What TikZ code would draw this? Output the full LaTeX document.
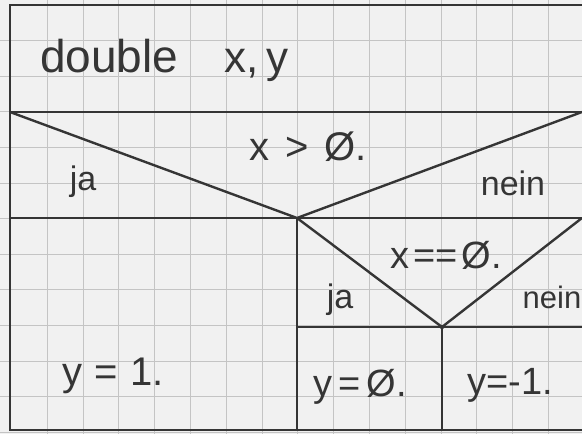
\documentclass[tikz,border=0pt]{standalone}
\usepackage{fontspec}
\setmainfont{Liberation Sans}
\begin{document}
\begin{tikzpicture}[x=1pt,y=-1pt,
  frame/.style={draw=ink,line width=2.8pt},
  struct/.style={draw=ink,line width=2.4pt},
  grid line/.style={draw=gridc,line width=0.9pt},
  hand/.style={text=ink,inner sep=0pt,font=\fontsize{#1}{#1}\selectfont},
  hand/.default=34]
\definecolor{ink}{HTML}{353535}
\definecolor{gridc}{HTML}{C4C4C4}
\definecolor{paper}{HTML}{F1F1F1}
\useasboundingbox (0,0) rectangle (582,434);
\clip (0,0) rectangle (582,434);
\fill[paper] (0,0) rectangle (582,434);
% graph paper
\foreach \k in {1,...,16} {\draw[grid line] (11.5+35.8*\k,0) -- (11.5+35.8*\k,434);}
\foreach \k in {1,...,12} {\draw[grid line] (0,5+35.6*\k) -- (582,5+35.6*\k);}
% structure points
\coordinate (TL) at (10,5);
\coordinate (TR) at (590,5);
\coordinate (BL) at (10,430);
\coordinate (BR) at (590,430);
\coordinate (A1) at (10,112);
\coordinate (A2) at (590,112);
\coordinate (V1) at (297,218);
\coordinate (B1) at (10,218);
\coordinate (B2) at (590,218);
\coordinate (V2) at (442,327);
\coordinate (C1) at (297,327);
\coordinate (C2) at (590,327);
\coordinate (D1) at (297,430);
\coordinate (D2) at (442,430);
\coordinate (R1) at (582,112);
\coordinate (R2) at (582,218);
% frame
\draw[frame] (BR) -- (BL) -- (TL) -- (TR);
\draw[frame] (A1) -- (A2);
\draw[struct] (A1) -- (V1) -- (R1);
\draw[struct] (B1) -- (B2);
\draw[struct] (V1) -- (D1);
\draw[struct] (V1) -- (V2) -- (R2);
\draw[struct] (C1) -- (C2);
\draw[struct] (V2) -- (D2);
\fill[ink] (V2) circle (2.2pt);
% texts
\node[hand=46,anchor=base west] (decl) at (40,72) {double};
\node[hand=44,anchor=base west] (vars) at (224,72) {x,\hspace{8pt}y};
\node[hand=40,anchor=base] (cond1) at (308,160) {x\hspace{16pt}>\hspace{16pt}Ø.};
\node[hand=34,anchor=base] (ja1) at (83,190) {ja};
\node[hand=34,anchor=base] (nein1) at (513,195) {nein};
\node[hand=38,anchor=base] (cond2) at (446,268) {x\hspace{4pt}==\hspace{4pt}Ø.};
\node[hand=34,anchor=base] (ja2) at (340,308) {ja};
\node[hand=31,anchor=base] (nein2) at (552,308) {nein};
\node[hand=40,anchor=base] (s1) at (113,385) {y\hspace{12pt}=\hspace{12pt}1.};
\node[hand=38,anchor=base] (s2) at (360,396) {y\,=\,Ø.};
\node[hand=38,anchor=base] (s3) at (510,394) {y=-1.};
\end{tikzpicture}
\end{document}
